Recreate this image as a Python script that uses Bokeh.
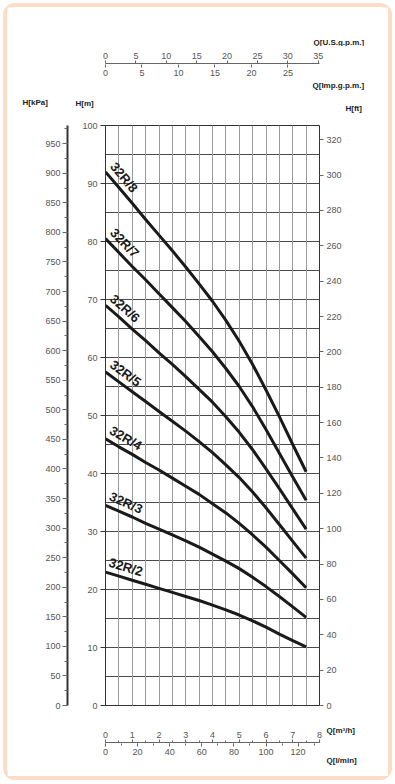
import math
from bokeh.plotting import figure
from bokeh.models import Range1d, LinearAxis, SingleIntervalTicker, Grid, ColumnDataSource
from bokeh.layouts import column, row
from bokeh.embed import file_html
from bokeh.resources import INLINE
from bokeh.core.properties import value

# ---------------- data ----------------
Q_m3h = [0, 0.5, 1, 1.5, 2, 2.5, 3, 3.5, 4, 4.5, 5, 5.5, 6, 6.5, 7, 7.5]
H_32R8 = [92.0, 89.3, 86.6, 83.8, 81.1, 78.4, 75.6, 72.7, 69.7, 66.4, 62.8, 58.8, 54.4, 49.8, 45.0, 40.3]
H_32R7 = [80.5, 78.1, 75.7, 73.4, 71.0, 68.6, 66.2, 63.6, 61.0, 58.1, 55.0, 51.5, 47.6, 43.5, 39.4, 35.4]
H_32R6 = [69.0, 67.0, 64.9, 62.9, 60.8, 58.8, 56.7, 54.5, 52.3, 49.8, 47.1, 44.1, 40.8, 37.4, 33.9, 30.4]
H_32R5 = [57.5, 55.8, 54.1, 52.4, 50.7, 49.0, 47.3, 45.5, 43.6, 41.5, 39.3, 36.8, 34.1, 31.2, 28.3, 25.4]
H_32R4 = [46.0, 44.6, 43.3, 41.9, 40.6, 39.2, 37.8, 36.4, 34.8, 33.2, 31.4, 29.4, 27.3, 25.0, 22.7, 20.3]
H_32R3 = [34.5, 33.5, 32.5, 31.4, 30.4, 29.4, 28.4, 27.3, 26.1, 24.9, 23.6, 22.1, 20.5, 18.8, 17.0, 15.2]
H_32R2 = [23.0, 22.3, 21.6, 20.9, 20.2, 19.5, 18.8, 18.1, 17.3, 16.5, 15.6, 14.6, 13.5, 12.3, 11.2, 10.1]
labels = ["32R/8", "32R/7", "32R/6", "32R/5", "32R/4", "32R/3", "32R/2"]
series = [H_32R8, H_32R7, H_32R6, H_32R5, H_32R4, H_32R3, H_32R2]

# axis extents (unit conversions of 0..8 m3/h and 0..100 m)
Q_MAX = 8
H_MAX = 100
USGPM_MAX = 35.22
IMPGPM_MAX = 29.33
LMIN_MAX = 133.33
KPA_MAX = 980.7
FT_MAX = 328.08

# ---------------- layout ----------------
W = 381
L = 98
R = 69
FONT = "Liberation Sans"
TICK_COLOR = "#555555"


def no_align(f):
    try:
        f.frame_align = False
    except Exception:
        pass


def style_axis(ax, size="9px"):
    ax.major_label_text_font = FONT
    ax.major_label_text_font_size = size
    ax.major_label_text_color = TICK_COLOR
    ax.major_tick_in = 0
    ax.minor_tick_in = 0
    ax.axis_line_color = "#666666"
    ax.major_tick_line_color = "#666666"
    ax.minor_tick_line_color = "#666666"


def title_fig(w, h, xs, ys, texts):
    f = figure(width=w, height=h, x_range=Range1d(0, w), y_range=Range1d(0, h),
               x_axis_location=None, y_axis_location=None, min_border=0,
               output_backend="svg", toolbar_location=None)
    f.outline_line_color = None
    f.grid.visible = False
    f.axis.visible = False
    no_align(f)
    f.text(x=xs, y=ys, text=texts, text_font=value(FONT), text_font_style="bold",
           text_font_size="8px", text_color="#222222", text_align="left",
           text_baseline="middle")
    return f


# ---- title above top scale ----
f1 = title_fig(W, 39, [306], [4], ["Q[U.S.g.p.m.]"])

# ---- top scales ----
top = figure(width=W, height=34, x_range=Range1d(0, USGPM_MAX), y_range=Range1d(0, 1),
             x_axis_location="above", y_axis_location=None,
             min_border_left=L, min_border_right=R, min_border_top=17, min_border_bottom=16,
             output_backend="svg", toolbar_location=None)
no_align(top)
top.outline_line_color = None
top.grid.visible = False
ax = top.xaxis[0]
ax.ticker = SingleIntervalTicker(interval=5, num_minor_ticks=0)
style_axis(ax)
ax.major_tick_out = 3
ax.major_label_standoff = 2
top.extra_x_ranges = {"imp": Range1d(0, IMPGPM_MAX)}
ax2 = LinearAxis(x_range_name="imp", ticker=SingleIntervalTicker(interval=5, num_minor_ticks=0))
style_axis(ax2)
ax2.axis_line_color = None
ax2.major_tick_out = 3
ax2.major_label_standoff = 2
top.add_layout(ax2, "below")

# ---- titles between top scale and chart ----
f3 = title_fig(W, 38, [305, 15, 68, 338], [33, 16, 15, 10],
               ["Q[Imp.g.p.m.]", "H[kPa]", "H[m]", "H[ft]"])

# ---- main chart ----
HM = 594
TOPB = 7
BOTB = 7
p = figure(width=W, height=HM, x_range=Range1d(0, Q_MAX), y_range=Range1d(0, H_MAX),
           x_axis_location=None, y_axis_location="left",
           min_border_left=L, min_border_right=R, min_border_top=TOPB, min_border_bottom=BOTB,
           output_backend="svg", toolbar_location=None)
no_align(p)
p.outline_line_color = "#333333"
p.outline_line_width = 1

ym = p.yaxis[0]
ym.ticker = SingleIntervalTicker(interval=10, num_minor_ticks=0)
style_axis(ym)
ym.axis_line_color = "#333333"
ym.major_tick_out = 5
ym.major_label_standoff = 3
ym.major_tick_line_color = "#333333"
ym.axis_label = " "
ym.axis_label_text_font_size = "8px"
ym.axis_label_standoff = 0

p.extra_y_ranges = {"kpa": Range1d(0, KPA_MAX), "ft": Range1d(0, FT_MAX)}
ak = LinearAxis(y_range_name="kpa", ticker=SingleIntervalTicker(interval=50, num_minor_ticks=2))
style_axis(ak)
ak.axis_line_color = "#333333"
ak.axis_line_width = 2
ak.major_tick_out = 5
ak.minor_tick_out = 3
ak.major_label_standoff = 2
p.add_layout(ak, "left")

af = LinearAxis(y_range_name="ft", ticker=SingleIntervalTicker(interval=20, num_minor_ticks=0))
style_axis(af)
af.axis_line_color = None
af.major_tick_out = 4
af.major_label_standoff = 3
p.add_layout(af, "right")

p.ygrid[0].ticker = SingleIntervalTicker(interval=5)
p.ygrid[0].grid_line_color = "#4a4a4a"
p.ygrid[0].grid_line_width = 1
vg = Grid(dimension=0, ticker=SingleIntervalTicker(interval=0.5), grid_line_color="#999999",
          grid_line_width=1)
p.add_layout(vg)

frame_w = W - L - R
frame_h = HM - TOPB - BOTB
px_q = frame_w / Q_MAX
px_h = frame_h / H_MAX

lx, ly, la = [], [], []
for name, H in zip(labels, series):
    p.line(Q_m3h, H, line_width=3, line_color="#1a1a1a", line_join="round")
    slope = (H[0] - H[4]) / (Q_m3h[4] - Q_m3h[0]) * px_h / px_q
    lx.append(Q_m3h[0] + 0.06)
    ly.append(H[0] + 0.5)
    la.append(-math.atan(slope))
src = ColumnDataSource(dict(x=lx, y=ly, a=la, t=labels))
p.text(x="x", y="y", text="t", angle="a", source=src, text_font=value(FONT),
       text_font_style="bold", text_font_size="13px", text_color="#1a1a1a",
       text_align="left", text_baseline="bottom")

# ---- bottom scales ----
BW = 317
bot = figure(width=BW, height=64, x_range=Range1d(0, Q_MAX), y_range=Range1d(0, 1),
             x_axis_location="above", y_axis_location=None,
             min_border_left=L, min_border_right=BW - L - frame_w, min_border_top=30,
             min_border_bottom=33, output_backend="svg", toolbar_location=None)
no_align(bot)
bot.outline_line_color = None
bot.grid.visible = False
bx = bot.xaxis[0]
bx.ticker = SingleIntervalTicker(interval=1, num_minor_ticks=2)
style_axis(bx)
bx.major_tick_out = 3
bx.minor_tick_out = 2
bx.major_label_standoff = 2
bot.extra_x_ranges = {"lmin": Range1d(0, LMIN_MAX)}
bx2 = LinearAxis(x_range_name="lmin", ticker=SingleIntervalTicker(interval=20, num_minor_ticks=2))
style_axis(bx2)
bx2.axis_line_color = None
bx2.major_tick_out = 3
bx2.minor_tick_out = 2
bx2.major_label_standoff = 2
bot.add_layout(bx2, "below")

f5 = title_fig(W - BW, 64, [2, 2], [46, 16], ["Q[m³/h]", "Q[l/min]"])

layout = column(f1, top, f3, p, row(bot, f5),
                styles={"margin": "3px", "border": "4px solid #fbdcc6",
                        "border-radius": "12px"})

open("out.html", "w").write(file_html(layout, INLINE))
